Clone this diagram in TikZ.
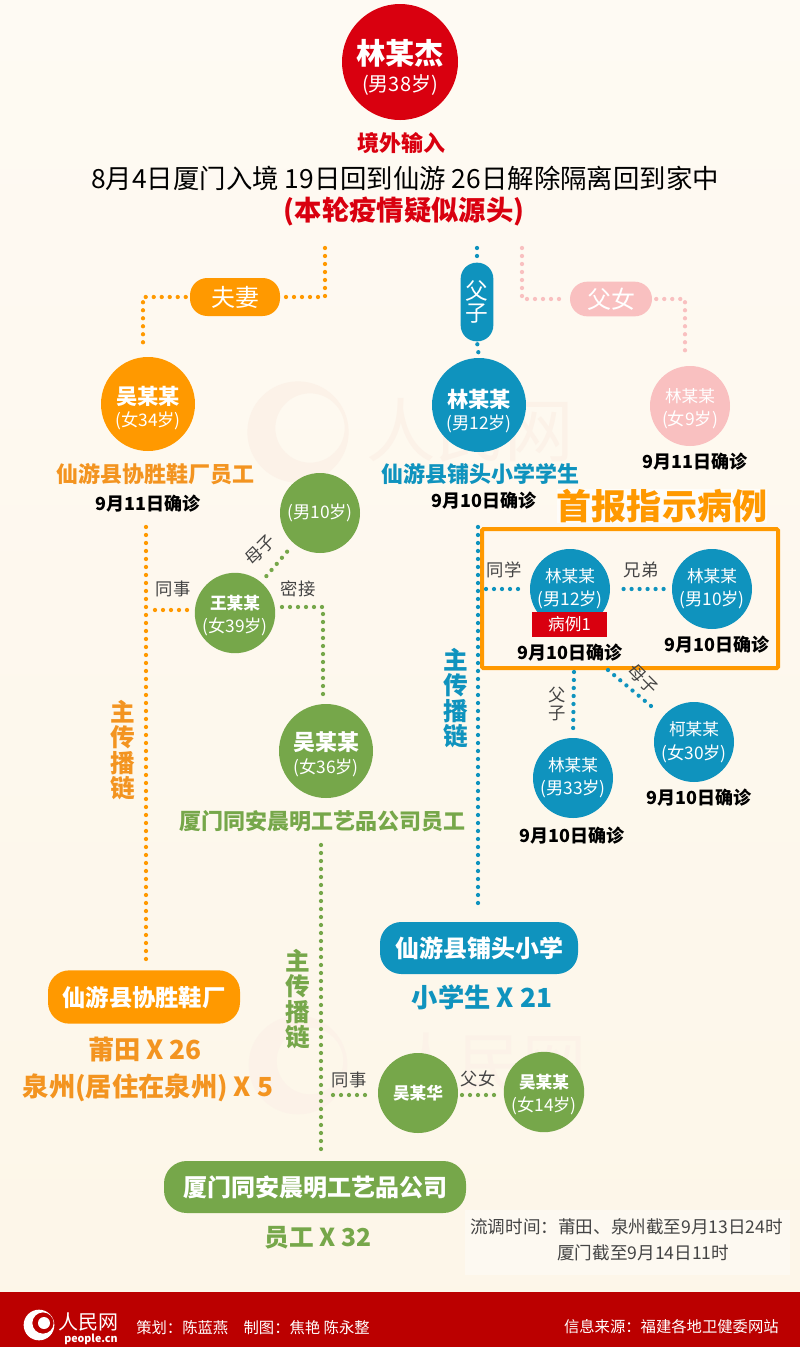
\documentclass[tikz,border=0pt]{standalone}
\usepackage{fontspec}
\setmainfont{Noto Sans CJK SC}
\newcommand{\fsz}[1]{\fontsize{#1}{#1}\selectfont}
\definecolor{rmred}{HTML}{D9000F}
\definecolor{bandred}{HTML}{BB0000}
\definecolor{fuorange}{HTML}{FF9900}
\definecolor{txtorange}{HTML}{F39420}
\definecolor{tlblue}{HTML}{0F93BE}
\definecolor{lfgreen}{HTML}{76A74A}
\definecolor{fnpink}{HTML}{F9C0C0}
\definecolor{wmark}{HTML}{FCF2E8}
\definecolor{pagetop}{HTML}{FEFAF3}
\definecolor{pagebot}{HTML}{FDF6E8}
\definecolor{labelgrey}{HTML}{444444}
\begin{document}
\begin{tikzpicture}
[
    x=0.75pt, y=-0.75pt,
    dotline/.style={line width=3.2pt, line cap=round, dash pattern=on 0pt off 6pt},
    person/.style={circle, inner sep=0pt, minimum size=60pt, align=center, text=white},
    bigperson/.style={person, minimum size=70.5pt},
    pill/.style={inner sep=0pt, rounded corners=13pt, align=center, text=white},
    rel/.style={inner sep=0pt, text=labelgrey, font=\fsz{13}, align=center},
    datelbl/.style={inner sep=0pt, font=\fsz{13.5}\bfseries, text=black},
    headlbl/.style={inner sep=0pt, font=\fsz{16.5}\bfseries},
    chainlbl/.style={inner sep=0pt, font=\fontsize{18.5}{19}\selectfont\bfseries, align=center},
    countlbl/.style={inner sep=0pt, font=\fsz{19.7}\bfseries}
]
    \useasboundingbox (0,0) rectangle (800,1347);
    \shade[top color=pagetop, bottom color=pagebot] (0,0) rectangle (800,1347);

    \fill[wmark, even odd rule] (298,432) circle (38pt) (310,428) circle (26pt);
    \fill[wmark, even odd rule] (298,1065) circle (37pt) (310,1061) circle (25pt);
    \node [inner sep=0pt, text=wmark, font=\fsz{52}] (wmarka) at (470,430) {人民网};
    \node [inner sep=0pt, text=wmark, font=\fsz{48}] (wmarkb) at (490,1062) {人民网};
    \fill[white, opacity=0.4] (465,1210) rectangle (790,1275);

    \node [person, minimum size=87pt, fill=rmred] (lin38) at (400,62)
        {\fsz{22}\bfseries\rule{0pt}{27pt}林某杰\\[5pt]\fsz{15}\mdseries (男38岁)};
    \node [inner sep=0pt, text=rmred, font=\fsz{16.5}\bfseries] (jingwai) at (401,143) {境外输入};
    \node [inner sep=0pt, font=\fsz{19.8}] (route) at (405,178) {8月4日厦门入境 19日回到仙游 26日解除隔离回到家中};
    \node [inner sep=0pt, text=rmred, font=\fsz{20.5}\bfseries] (source) at (404,212) {(本轮疫情疑似源头)};

    \begin{scope}[dots/.style={dotline, draw=fuorange}]
        \coordinate (wifetop) at (325,248);
        \coordinate (wifeend) at (143,350);
        \coordinate (worka) at (146,527);
        \coordinate (mateend) at (155,610);
        \node [pill, fill=fuorange, minimum width=67.5pt, minimum height=28.5pt, font=\fsz{18}] (fuqi) at (235,297) {夫妻};
        \node [bigperson, fill=fuorange] (wu34) at (148,404)
            {\fsz{16}\bfseries\rule{0pt}{20pt}吴某某\\[3pt]\fsz{13}\mdseries (女34岁)};
        \node [headlbl, text=txtorange] (xiesheng) at (155,474) {仙游县协胜鞋厂员工};
        \node [datelbl] (wu34date) at (148,504) {9月11日确诊};
        \node [chainlbl, text=txtorange] (chaina) at (123,750) {主\\传\\播\\链};
        \node [pill, fill=fuorange, minimum width=144pt, minimum height=40pt, font=\fsz{17.5}\bfseries, rounded corners=16pt] (factory) at (144,997) {仙游县协胜鞋厂};
        \node [countlbl, text=txtorange] (putian) at (145,1050) {莆田 X 26};
        \node [countlbl, text=txtorange] (quanzhou) at (148,1088) {泉州(居住在泉州) X 5};
        \node [person, fill=lfgreen] (wang39) at (235,613)
            {\fsz{12.5}\bfseries\rule{0pt}{15pt}王某某\\[4pt]\fsz{13}\mdseries (女39岁)};
        \draw[dots, shorten >=3pt] (wifetop) |- (fuqi.east);
        \draw[dots, shorten <=3pt] (fuqi.west) -| (wifeend);
        \draw[dots, shorten >=8pt] (worka) -- (worka |- factory.north);
        \draw[dots, shorten >=5pt] (mateend) -- (mateend -| wang39.west);
    \end{scope}

    \begin{scope}[dots/.style={dotline, draw=tlblue}]
        \coordinate (sontop) at (477,248);
        \coordinate (schoola) at (478,527);
        \coordinate (classa) at (486,589);
        \node [pill, fill=tlblue, minimum width=24.5pt, minimum height=59pt, rounded corners=12pt, font=\fsz{17}] (fuzi) at (477,302) {父\\[-1pt]子};
        \node [bigperson, fill=tlblue] (lin12) at (479,405)
            {\fsz{16}\bfseries\rule{0pt}{23pt}林某某\\[3pt]\fsz{13}\mdseries (男12岁)};
        \node [headlbl, text=tlblue] (putou) at (480,474) {仙游县铺头小学学生};
        \node [datelbl] (lin12date) at (484,501) {9月10日确诊};
        \node [inner sep=0pt, fill=white, opacity=0.7, text opacity=1, text=fuorange, font=\fsz{26.3}\bfseries] (shoubao) at (662,506) {首报指示病例};
        \draw [draw=fuorange, line width=3pt, rounded corners=1pt] (482,529) rectangle (778,668);
        \node [person, fill=tlblue] (case1) at (570,589)
            {\fsz{12.5}林某某\\[5pt]\fsz{13}(男12岁)};
        \node [inner sep=0pt, fill=rmred, text=white, minimum width=56pt, minimum height=19pt, font=\fsz{12.5}] (casetag) at (569.5,624.5) {病例1};
        \node [datelbl] (case1date) at (570,653) {9月10日确诊};
        \node [person, fill=tlblue] (bro10) at (712,589)
            {\fsz{12.5}林某某\\[5pt]\fsz{13}(男10岁)};
        \node [datelbl] (bro10date) at (717,645) {9月10日确诊};
        \node [person, fill=tlblue] (dad33) at (573,778)
            {\fsz{12.5}林某某\\[5pt]\fsz{13}(男33岁)};
        \node [datelbl] (dad33date) at (572,836) {9月10日确诊};
        \node [person, fill=tlblue] (ke30) at (694,742)
            {\fsz{12.5}柯某某\\[5pt]\fsz{13}(女30岁)};
        \node [datelbl] (ke30date) at (699,798) {9月10日确诊};
        \node [rel] (tongxue) at (504,570) {同学};
        \node [rel] (xiongdi) at (641,570) {兄弟};
        \node [rel] (fuzib) at (557,704) {父\\子};
        \node [rel, rotate=-45] (muzia) at (643,679) {母子};
        \node [chainlbl, text=tlblue] (chainb) at (456,698) {主\\传\\播\\链};
        \node [pill, fill=tlblue, minimum width=148.5pt, minimum height=39pt, font=\fsz{18}\bfseries, rounded corners=16pt] (school) at (479,948) {仙游县铺头小学};
        \node [countlbl, text=tlblue] (pupils) at (482,997) {小学生 X 21};
        \coordinate (dadtop) at (574,672);
        \coordinate (ketop) at (608,670);
        \draw[dots, shorten >=2pt] (sontop) -- (fuzi.north);
        \draw[dots, shorten <=2pt, shorten >=1pt] (fuzi.south) -- (lin12.north);
        \draw[dots, shorten >=12pt] (schoola) -- (schoola |- school.north);
        \draw[dots, shorten >=6pt] (classa) -- (case1.west);
        \draw[dots, shorten <=10pt, shorten >=6pt] (case1.east) -- (bro10.west);
        \draw[dots, shorten >=6pt] (dadtop) -- (dad33.north);
        \draw[dots, shorten >=6pt] (ketop) -- (ke30);
    \end{scope}

    \begin{scope}[dots/.style={dotline, draw=fnpink}]
        \coordinate (daughtertop) at (522,248);
        \coordinate (daughterend) at (685,352);
        \node [pill, fill=fnpink, minimum width=61.5pt, minimum height=26pt, font=\fsz{18}] (funv) at (611,299) {父女};
        \node [person, fill=fnpink] (lin9) at (690,406)
            {\fsz{12.5}\rule{0pt}{14pt}林某某\\[4pt]\fsz{13}(女9岁)};
        \node [datelbl] (lin9date) at (695,462) {9月11日确诊};
        \draw[dots, shorten >=3pt] (daughtertop) |- (funv.west);
        \draw[dots, shorten <=3pt] (funv.east) -| (daughterend);
    \end{scope}

    \begin{scope}[dots/.style={dotline, draw=lfgreen}]
        \coordinate (closea) at (282,607);
        \coordinate (closeend) at (323,694);
        \coordinate (compa) at (321,845);
        \coordinate (mateb) at (333,1095);
        \coordinate (wuhuae) at (462,1095);
        \node [person, fill=lfgreen] (boy10) at (320,513) {\fsz{13}(男10岁)};
        \node [bigperson, fill=lfgreen] (wu36) at (326,751)
            {\fsz{16.5}\bfseries\rule{0pt}{19pt}吴某某\\[3pt]\fsz{13}\mdseries (女36岁)};
        \node [headlbl, text=lfgreen] (tongan) at (322,821) {厦门同安晨明工艺品公司员工};
        \node [rel] (tongshia) at (173,589) {同事};
        \node [rel] (mijie) at (298,589) {密接};
        \node [rel, rotate=45] (muzib) at (260,550) {母子};
        \node [chainlbl, text=lfgreen] (chainc) at (298,999) {主\\传\\播\\链};
        \node [person, fill=lfgreen] (wuhua) at (418,1093) {\fsz{12.5}\bfseries 吴某华};
        \node [person, fill=lfgreen] (wu14) at (544,1092)
            {\fsz{12.5}\bfseries\rule{0pt}{15pt}吴某某\\[4pt]\fsz{13}\mdseries (女14岁)};
        \node [rel] (tongshib) at (349,1080) {同事};
        \node [rel] (funvb) at (478,1079) {父女};
        \node [pill, fill=lfgreen, minimum width=226.5pt, minimum height=39pt, font=\fsz{18}\bfseries, rounded corners=17pt] (company) at (315,1187) {厦门同安晨明工艺品公司};
        \node [countlbl, text=lfgreen, font=\fsz{18.5}\bfseries] (staff) at (318,1238) {员工 X 32};
        \draw[dots, shorten <=6pt, shorten >=6pt] (wang39) -- (boy10);
        \draw[dots] (closea) -| (closeend);
        \draw[dots, shorten >=6pt] (compa) -- (compa |- company.north);
        \draw[dots, shorten >=6pt] (mateb) -- (mateb -| wuhua.west);
        \draw[dots, shorten >=6pt] (wuhuae) -- (wuhuae -| wu14.west);
    \end{scope}

    \node [inner sep=0pt, anchor=west, text=labelgrey, font=\fsz{13.2}] (flowa) at (470,1227) {流调时间：莆田、泉州截至9月13日24时};
    \node [inner sep=0pt, anchor=west, text=labelgrey, font=\fsz{13.2}] (flowb) at (557,1253) {厦门截至9月14日11时};

    \fill[bandred] (0,1292) rectangle (800,1347);
    \fill[white, even odd rule] (39,1325) circle (11.5pt) (43,1323) circle (8pt);
    \fill[white] (44,1323) circle (4.5pt);
    \node [inner sep=0pt, text=white, font=\fsz{15}] (logoname) at (88,1322) {人民网};
    \node [inner sep=0pt, text=white, font=\fsz{8}\bfseries] (logourl) at (91,1339) {people.cn};
    \node [inner sep=0pt, anchor=west, text=white, font=\fsz{11.5}] (credit) at (136,1328) {策划：陈蓝燕\quad 制图：焦艳 陈永整};
    \node [inner sep=0pt, anchor=east, text=white, font=\fsz{11.5}] (datasrc) at (779,1327) {信息来源：福建各地卫健委网站};
\end{tikzpicture}
\end{document}
